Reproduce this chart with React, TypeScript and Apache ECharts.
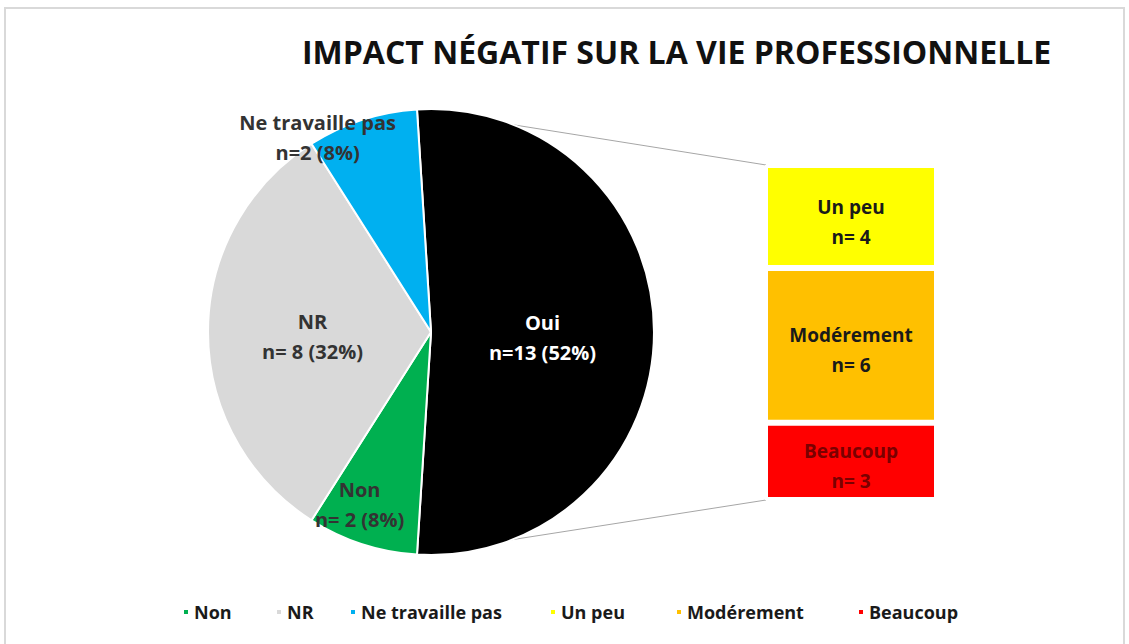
import React, { useEffect, useRef } from "react";
import * as echarts from "echarts";

const pieNames = ["Oui", "Non", "NR", "Ne travaille pas"];
const pieValues = [13, 2, 8, 2];
const pieColors = ["#000000", "#00b050", "#d9d9d9", "#00b0f0"];
const pieLabels = ["Oui\nn=13 (52%)", "Non\nn= 2 (8%)", "NR\nn= 8 (32%)", "Ne travaille pas\nn=2 (8%)"];

const barNames = ["Un peu", "Modérement", "Beaucoup"];
const barValues = [4, 6, 3];
const barColors = ["#ffff00", "#ffc000", "#ff0000"];
const barLabels = ["Un peu\nn= 4", "Modérement\nn= 6", "Beaucoup\nn= 3"];
const barLabelColors = ["#1a1a1a", "#1a1a1a", "#7a0000"];

const legendOrder = ["Non", "NR", "Ne travaille pas", "Un peu", "Modérement", "Beaucoup"];
const legendLefts = [177, 270, 344, 544, 670, 852];

const FONT = "Open Sans";

export default function App() {
  const ref = useRef<HTMLDivElement>(null);
  useEffect(() => {
    document.body.style.margin = "0";
    const chart = echarts.init(ref.current!, null, { renderer: "svg" });
    const cx = 431, cy = 332, r = 223;
    const total = pieValues.reduce((a, b) => a + b, 0);
    const startAngle = (pieValues[0] / total) * 180;
    const a = (startAngle * Math.PI) / 180;
    const topPt = [cx + r * Math.cos(a), cy - r * Math.sin(a)];
    const botPt = [cx + r * Math.cos(a), cy + r * Math.sin(a)];
    const barLeft = 765, barTop = 165, barW = 172, barH = 335;

    const labelOffsets: Record<number, { dx: number; dy: number }> = {
      0: { dx: -3, dy: 5 },
      1: { dx: -36, dy: 64 },
      2: { dx: -4, dy: 4 },
      3: { dx: -78, dy: -86 },
    };

    chart.setOption({
      animation: false,
      backgroundColor: "#ffffff",
      title: {
        text: "IMPACT NÉGATIF SUR LA VIE PROFESSIONNELLE",
        left: 297,
        top: 30,
        textStyle: { fontFamily: FONT, fontWeight: "bold", fontSize: 32, color: "#111" },
      },
      legend: legendOrder.map((n, i) => ({
        data: [n],
        top: 598,
        left: legendLefts[i],
        icon: "rect",
        itemWidth: 6,
        itemHeight: 6,
        textStyle: { fontFamily: FONT, fontWeight: "bold", fontSize: 18, color: "#1a1a1a" },
      })),
      grid: { left: barLeft, top: barTop, width: barW, height: barH, containLabel: false },
      xAxis: { type: "category", data: [""], show: false },
      yAxis: { type: "value", min: 0, max: 13, inverse: true, show: false },
      graphic: [
        {
          type: "rect",
          shape: { x: 5, y: 8, width: 1119, height: 700 },
          style: { fill: "none", stroke: "#d9d9d9", lineWidth: 2 },
          z: -10,
        },
        {
          type: "line",
          shape: { x1: topPt[0], y1: topPt[1], x2: barLeft + 1, y2: barTop },
          style: { stroke: "#a6a6a6", lineWidth: 1 },
          z: -5,
        },
        {
          type: "line",
          shape: { x1: botPt[0], y1: botPt[1], x2: barLeft + 1, y2: barTop + barH },
          style: { stroke: "#a6a6a6", lineWidth: 1 },
          z: -5,
        },
      ],
      series: [
        {
          type: "pie",
          center: [cx, cy],
          radius: [0, r],
          startAngle: startAngle,
          clockwise: true,
          avoidLabelOverlap: false,
          label: {
            show: true,
            position: "inside",
            fontFamily: FONT,
            fontWeight: "bold",
            fontSize: 20,
            lineHeight: 30,
            color: "#333",
          },
          labelLine: { show: false },
          labelLayout: (p: any) => labelOffsets[p.dataIndex] || {},
          itemStyle: { borderColor: "#ffffff", borderWidth: 2 },
          data: pieNames.map((n, i) => ({
            name: n,
            value: pieValues[i],
            itemStyle: { color: pieColors[i] },
            label: {
              formatter: pieLabels[i],
              color: i === 0 ? "#ffffff" : "#333333",
            },
          })),
        },
        ...barNames.map((n, i) => ({
          type: "bar",
          name: n,
          stack: "total",
          barWidth: "100%",
          data: [barValues[i]],
          itemStyle: { color: barColors[i], borderColor: "#ffffff", borderWidth: 3 },
          label: {
            show: true,
            position: "inside",
            offset: [0, 5],
            formatter: barLabels[i],
            fontFamily: FONT,
            fontWeight: "bold",
            fontSize: 19,
            lineHeight: 30,
            color: barLabelColors[i],
          },
        })),
      ],
    });
    return () => chart.dispose();
  }, []);
  return <div ref={ref} style={{ width: 1129, height: 644 }} />;
}
